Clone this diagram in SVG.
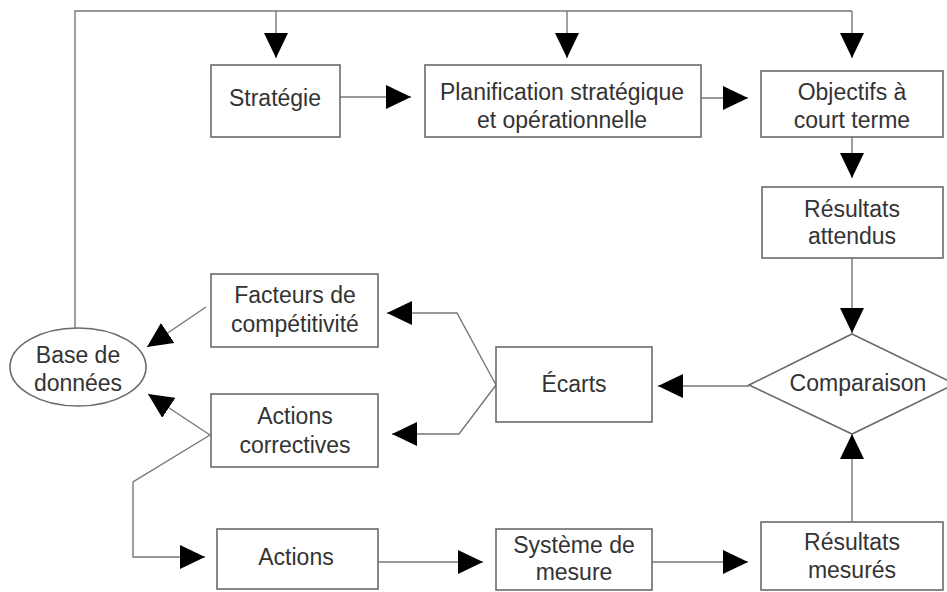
<svg xmlns="http://www.w3.org/2000/svg" width="947" height="592" viewBox="0 0 947 592">
<style>
.box{fill:#fff;stroke:#6a6a6a;stroke-width:1.6}
.t{font-family:"Liberation Sans",Arial,sans-serif;font-size:23px;fill:#333;text-anchor:middle}
.c{fill:none;stroke:#777;stroke-width:1.4}
</style>
<defs>
<marker id="ah" markerUnits="userSpaceOnUse" markerWidth="26" markerHeight="24" refX="25" refY="12" orient="auto" viewBox="0 0 26 24">
<path d="M0,0 L25,12 L0,24 z" fill="#000"/>
</marker>
</defs>
<rect width="947" height="592" fill="#fff"/>
<g id="connectors">
<polyline class="c" points="75,328 75,11 852,11"/>
<line class="c" x1="276" y1="11" x2="276" y2="58" marker-end="url(#ah)"/>
<line class="c" x1="567" y1="11" x2="567" y2="58" marker-end="url(#ah)"/>
<line class="c" x1="852" y1="11" x2="852" y2="58" marker-end="url(#ah)"/>
<line class="c" x1="340" y1="97" x2="411" y2="97" marker-end="url(#ah)"/>
<line class="c" x1="701" y1="98" x2="748" y2="98" marker-end="url(#ah)"/>
<line class="c" x1="852" y1="137" x2="852" y2="178" marker-end="url(#ah)"/>
<line class="c" x1="852" y1="258" x2="852" y2="333" marker-end="url(#ah)"/>
<line class="c" x1="749" y1="386" x2="658" y2="386" marker-end="url(#ah)"/>
<polyline class="c" points="496,385 457,313 387,313" marker-end="url(#ah)"/>
<polyline class="c" points="496,385 459,434 392,434" marker-end="url(#ah)"/>
<line class="c" x1="206" y1="307" x2="147" y2="347" marker-end="url(#ah)"/>
<line class="c" x1="210" y1="435" x2="148" y2="394" marker-end="url(#ah)"/>
<polyline class="c" points="210,435 133,482 133,557 205,557" marker-end="url(#ah)"/>
<line class="c" x1="378" y1="562" x2="483" y2="562" marker-end="url(#ah)"/>
<line class="c" x1="652" y1="562" x2="748" y2="562" marker-end="url(#ah)"/>
<line class="c" x1="852" y1="522" x2="852" y2="434" marker-end="url(#ah)"/>
</g>
<g id="strategie"><rect class="box" x="211" y="65" width="129" height="72"/><text class="t" x="275" y="106">Stratégie</text></g>
<g id="planification"><rect class="box" x="425" y="65" width="276" height="72"/><text class="t" x="562" y="100">Planification stratégique</text><text class="t" x="562" y="128">et opérationnelle</text></g>
<g id="objectifs"><rect class="box" x="761" y="71" width="182" height="66"/><text class="t" x="852" y="100">Objectifs à</text><text class="t" x="852" y="128">court terme</text></g>
<g id="resultats-attendus"><rect class="box" x="762" y="187" width="181" height="71"/><text class="t" x="852" y="217">Résultats</text><text class="t" x="852" y="244">attendus</text></g>
<g id="comparaison"><polygon class="box" points="852,334 955,384 852,434 749,385"/><text class="t" x="858" y="391">Comparaison</text></g>
<g id="ecarts"><rect class="box" x="496" y="347" width="156" height="75"/><text class="t" x="574" y="392">Écarts</text></g>
<g id="facteurs"><rect class="box" x="211" y="274" width="167" height="73"/><text class="t" x="295" y="303">Facteurs de</text><text class="t" x="295" y="332">compétitivité</text></g>
<g id="actions-correctives"><rect class="box" x="211" y="394" width="167" height="73"/><text class="t" x="295" y="424">Actions</text><text class="t" x="295" y="453">correctives</text></g>
<g id="base-de-donnees"><ellipse class="box" cx="78" cy="367" rx="68" ry="39"/><text class="t" x="78" y="363">Base de</text><text class="t" x="78" y="391">données</text></g>
<g id="actions"><rect class="box" x="217" y="529" width="161" height="60"/><text class="t" x="296" y="565">Actions</text></g>
<g id="systeme-de-mesure"><rect class="box" x="496" y="529" width="156" height="61"/><text class="t" x="574" y="553">Système de</text><text class="t" x="574" y="580">mesure</text></g>
<g id="resultats-mesures"><rect class="box" x="761" y="522" width="182" height="68"/><text class="t" x="852" y="550">Résultats</text><text class="t" x="852" y="578">mesurés</text></g>
</svg>
